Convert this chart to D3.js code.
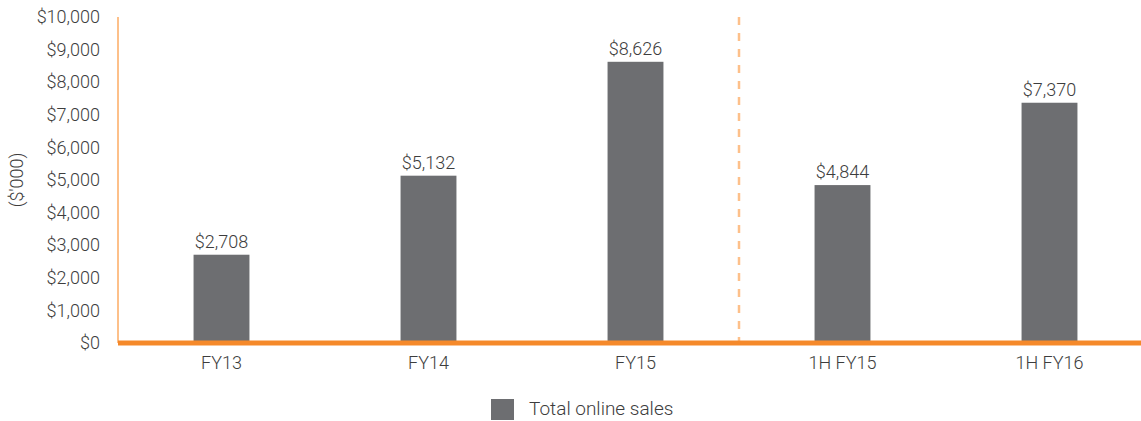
<!DOCTYPE html>
<html>
<head>
<meta charset="utf-8">
<script src="https://cdn.jsdelivr.net/npm/d3@7"></script>
<style>
  html, body { margin: 0; padding: 0; background: #fff; }
  svg { display: block; font-family: Roboto, "Open Sans", sans-serif; font-weight: 300; }
</style>
</head>
<body>
<svg id="chart" width="1141" height="421"></svg>
<script>
// Total online sales ($'000) by period
const categories = ["FY13", "FY14", "FY15", "1H FY15", "1H FY16"];
const sales = [2708, 5132, 8626, 4844, 7370];
const yTicks = [0, 1000, 2000, 3000, 4000, 5000, 6000, 7000, 8000, 9000, 10000];
const seriesName = "Total online sales";

const svg = d3.select("#chart");
const plotLeft = 118, plotRight = 1153, plotTop = 17, plotBottom = 343;
const fontSize = "18px";

const x = d3.scaleBand()
  .domain(categories)
  .range([plotLeft, plotRight])
  .paddingInner(0.73)
  .paddingOuter(0.365);

const y = d3.scaleLinear().domain([0, 10000]).range([plotBottom, plotTop]);

const textColor = "#3d3d3d";
const barColor = "#6d6e71";
const orange = "#f5892a";
const lightOrange = "#fdc08a";

// y axis labels
const yAxis = d3.axisLeft(y).tickValues(yTicks).tickSize(0).tickPadding(18)
  .tickFormat(d => "$" + d3.format(",")(d));
const gy = svg.append("g").attr("transform", `translate(${plotLeft},0)`).call(yAxis);
gy.select(".domain").remove();
gy.selectAll("text").attr("fill", textColor).style("font-size", fontSize)
  .style("font-family", "Roboto, sans-serif").style("font-weight", 300);

// y axis line
svg.append("line")
  .attr("x1", plotLeft).attr("x2", plotLeft)
  .attr("y1", y(10000)).attr("y2", plotBottom)
  .attr("stroke", lightOrange).attr("stroke-width", 2);

// divider between full-year and half-year periods
const divX = (x("FY15") + x.bandwidth() / 2 + x("1H FY15") + x.bandwidth() / 2) / 2;
svg.append("line")
  .attr("x1", divX).attr("x2", divX)
  .attr("y1", y(10000)).attr("y2", plotBottom)
  .attr("stroke", lightOrange).attr("stroke-width", 2.5)
  .attr("stroke-dasharray", "8,8");

// bars
svg.append("g").selectAll("rect").data(sales).join("rect")
  .attr("x", (d, i) => x(categories[i]))
  .attr("width", x.bandwidth())
  .attr("y", d => y(d))
  .attr("height", d => y(0) - y(d))
  .attr("fill", barColor);

// value labels
svg.append("g").selectAll("text").data(sales).join("text")
  .attr("x", (d, i) => x(categories[i]) + x.bandwidth() / 2)
  .attr("y", d => y(d) - 7)
  .attr("text-anchor", "middle")
  .attr("fill", textColor)
  .style("font-size", fontSize)
  .text(d => "$" + d3.format(",")(d));

// baseline
svg.append("line")
  .attr("x1", plotLeft).attr("x2", 1141)
  .attr("y1", y(0)).attr("y2", y(0))
  .attr("stroke", orange).attr("stroke-width", 5);

// x axis labels
const xAxis = d3.axisBottom(x).tickSize(0).tickPadding(13);
const gx = svg.append("g").attr("transform", `translate(0,${plotBottom})`).call(xAxis);
gx.select(".domain").remove();
gx.selectAll("text").attr("fill", textColor).style("font-size", fontSize)
  .style("font-family", "Roboto, sans-serif").style("font-weight", 300);

// y axis title
svg.append("text")
  .attr("transform", `translate(23,${(plotTop + plotBottom) / 2}) rotate(-90)`)
  .attr("text-anchor", "middle")
  .attr("fill", textColor)
  .style("font-size", fontSize)
  .text("($'000)");

// legend
const lg = svg.append("g").attr("transform", "translate(491,399)");
lg.append("rect").attr("width", 23).attr("height", 21).attr("fill", barColor);
lg.append("text").attr("x", 38).attr("y", 16)
  .attr("fill", textColor).style("font-size", "19px").text(seriesName);
</script>
</body>
</html>
